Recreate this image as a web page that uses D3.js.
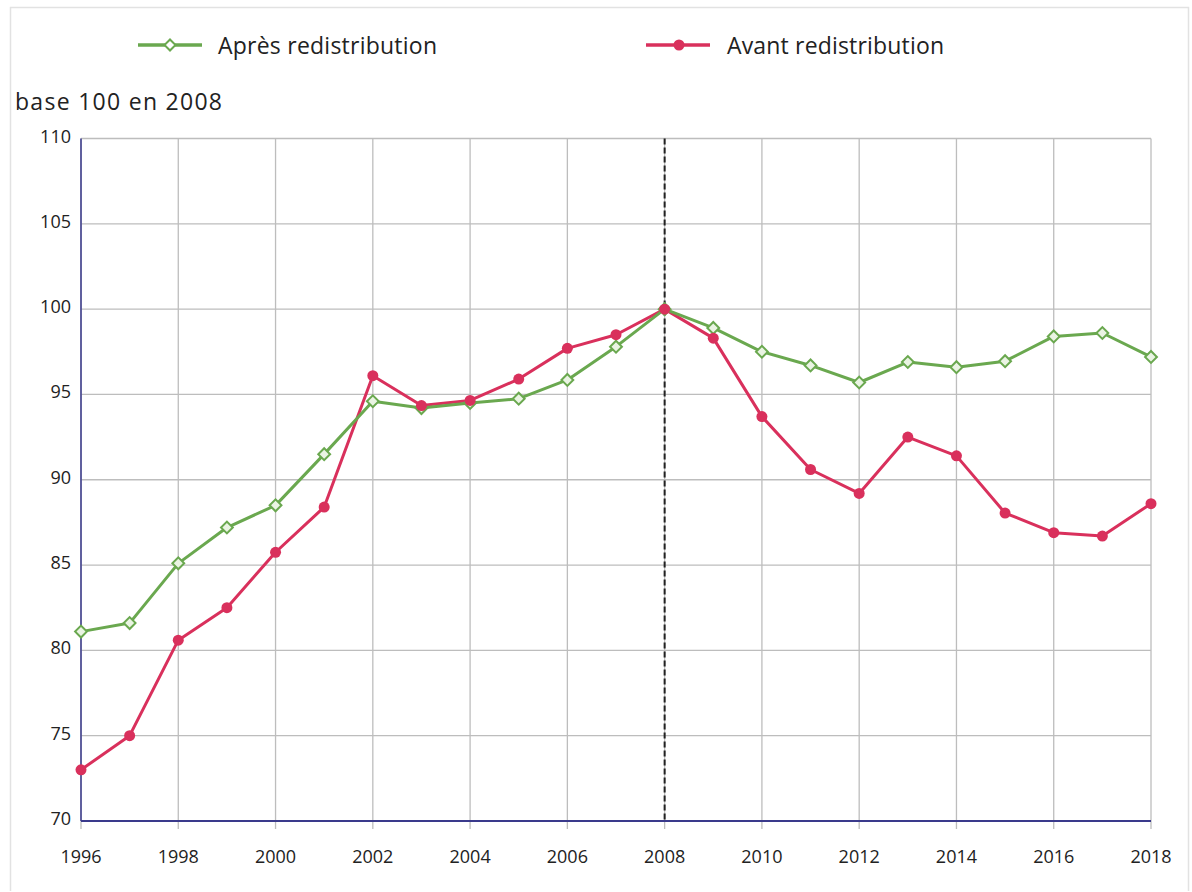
<!DOCTYPE html>
<html><head><meta charset="utf-8">
<script src="https://cdn.jsdelivr.net/npm/d3@7"></script>
<style>
body{margin:0;background:#fff;}
text{font-family:"Open Sans",sans-serif;}
</style></head>
<body>
<svg id="c" width="1192" height="892"></svg>
<script>
const years = [1996,1997,1998,1999,2000,2001,2002,2003,2004,2005,2006,2007,2008,2009,2010,2011,2012,2013,2014,2015,2016,2017,2018];
const apres = [81.1,81.6,85.1,87.2,88.5,91.5,94.6,94.2,94.5,94.75,95.85,97.8,100,98.9,97.5,96.7,95.7,96.9,96.6,96.95,98.4,98.6,97.2];
const avant = [73.0,75.0,80.6,82.5,85.75,88.4,96.1,94.35,94.65,95.9,97.7,98.5,100,98.3,93.7,90.6,89.2,92.5,91.4,88.05,86.9,86.7,88.6];
const xTicks = [1996,1998,2000,2002,2004,2006,2008,2010,2012,2014,2016,2018];
const yTicks = [70,75,80,85,90,95,100,105,110];
const seriesNames = ["Après redistribution","Avant redistribution"];
const yTitle = "base 100 en 2008";

const green = "#6aa84f", red = "#d9305c";
const svg = d3.select("#c");
// frame
svg.append("path").attr("d","M10.5,891 V7.5 H1188.5 V891").attr("fill","none").attr("stroke","#e2e2e2").attr("stroke-width",1.5);

const x = d3.scaleLinear().domain([1996,2018]).range([81,1151]);
const y = d3.scaleLinear().domain([70,110]).range([821,138.5]);

// grid
svg.append("g").selectAll("line").data(yTicks.filter(d=>d>70)).join("line")
  .attr("x1",81).attr("x2",1151).attr("y1",d=>y(d)).attr("y2",d=>y(d))
  .attr("stroke","#bdbdbd").attr("stroke-width",1.3);
svg.append("g").selectAll("line").data(xTicks).join("line")
  .attr("x1",d=>x(d)).attr("x2",d=>x(d)).attr("y1",138.5).attr("y2",829)
  .attr("stroke","#bdbdbd").attr("stroke-width",1.3);

// axes lines
svg.append("line").attr("x1",81).attr("x2",81).attr("y1",138.5).attr("y2",821).attr("stroke","#3a3a8c").attr("stroke-width",1.5);
svg.append("line").attr("x1",81).attr("x2",1151).attr("y1",821).attr("y2",821).attr("stroke","#3a3a8c").attr("stroke-width",1.8);

// tick labels
svg.append("g").selectAll("text").data(yTicks).join("text")
  .attr("x",71).attr("y",d=>y(d)+4).attr("text-anchor","end").attr("font-size",18).attr("fill","#222").text(d=>d);
svg.append("g").selectAll("text").data(xTicks).join("text")
  .attr("x",d=>x(d)).attr("y",863).attr("text-anchor","middle").attr("font-size",18).attr("fill","#222").text(d=>d);

// dashed 2008
svg.append("line").attr("x1",x(2008)).attr("x2",x(2008)).attr("y1",138.5).attr("y2",821)
  .attr("stroke","#222").attr("stroke-width",2).attr("stroke-dasharray","6,3");

// title
svg.append("text").attr("x",15).attr("y",110).attr("font-size",23).attr("fill","#222")
  .attr("textLength",207).attr("lengthAdjust","spacing").text(yTitle);

const line = d3.line().x((d,i)=>x(years[i])).y(d=>y(d));

// avant
svg.append("path").datum(avant).attr("d",line).attr("fill","none").attr("stroke",red).attr("stroke-width",3).attr("stroke-linejoin","round");
// apres
svg.append("path").datum(apres).attr("d",line).attr("fill","none").attr("stroke",green).attr("stroke-width",3).attr("stroke-linejoin","round");
svg.append("g").selectAll("path").data(apres).join("path")
  .attr("transform",(d,i)=>`translate(${x(years[i])},${y(d)}) rotate(45)`)
  .attr("d",d3.symbol().type(d3.symbolSquare).size(70))
  .attr("fill","#eaf4e3").attr("stroke",green).attr("stroke-width",2);
svg.append("g").selectAll("circle").data(avant).join("circle")
  .attr("cx",(d,i)=>x(years[i])).attr("cy",d=>y(d)).attr("r",5.5).attr("fill",red);

// legend
const lg = svg.append("g");
lg.append("line").attr("x1",138).attr("x2",202).attr("y1",45).attr("y2",45).attr("stroke",green).attr("stroke-width",3.5);
lg.append("path").attr("transform","translate(170,45) rotate(45)").attr("d",d3.symbol().type(d3.symbolSquare).size(60)).attr("fill","#fff").attr("stroke",green).attr("stroke-width",2);
lg.append("text").attr("x",218).attr("y",54).attr("font-size",23).attr("fill","#222")
  .attr("textLength",219).attr("lengthAdjust","spacing").text(seriesNames[0]);
lg.append("line").attr("x1",646).attr("x2",710).attr("y1",45).attr("y2",45).attr("stroke",red).attr("stroke-width",3.5);
lg.append("circle").attr("cx",679).attr("cy",45).attr("r",5.5).attr("fill",red);
lg.append("text").attr("x",727).attr("y",54).attr("font-size",23).attr("fill","#222")
  .attr("textLength",217).attr("lengthAdjust","spacing").text(seriesNames[1]);
</script>
</body></html>
